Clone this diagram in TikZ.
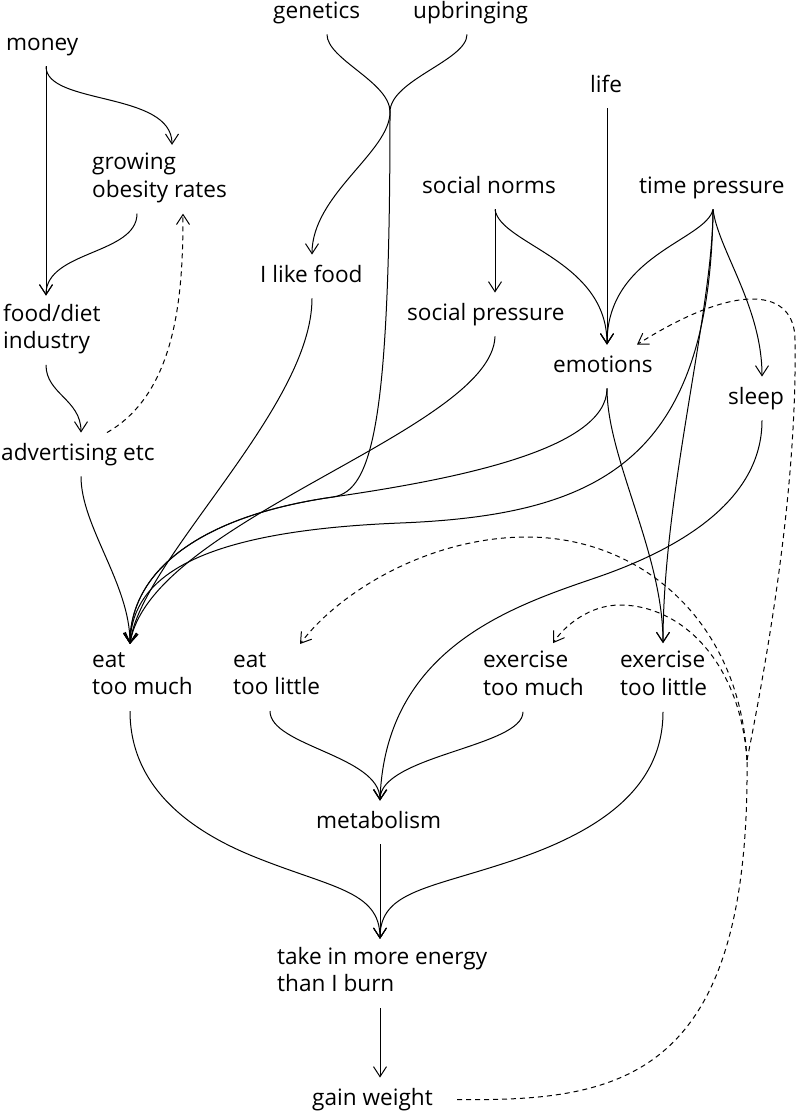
\documentclass[tikz,border=0pt]{standalone}
\usepackage{fontspec}
\setmainfont{Open Sans}
\usetikzlibrary{arrows.meta}

\begin{document}
\begin{tikzpicture}[x=1pt,y=-1pt,
    lbl/.style={anchor=west,align=left,inner xsep=0pt,inner ysep=8pt,
      font=\fontsize{22.6}{27.5}\selectfont,
      execute at begin node=\strut,execute at end node=\strut},
    >={Straight Barb[length=10pt,width=13pt]},
    ln/.style={line width=1pt},
    arr/.style={ln,->},
    fback/.style={ln,->,dash pattern=on 5pt off 4pt}]
  \useasboundingbox (0,0) rectangle (796,1111);

  % labels
  \node[lbl] (mo) at (6,44.5) {money};
  \node[lbl] (ge) at (273,12.5) {genetics};
  \node[lbl] (up) at (413,12.5) {upbringing};
  \node[lbl] (gr) at (92,179.25) {growing\\obesity rates};
  \node[lbl] (li) at (590,86.5) {life};
  \node[lbl] (sn) at (422,187.5) {social norms};
  \node[lbl] (tp) at (639,187.5) {time pressure};
  \node[lbl] (lf) at (260,276.5) {I like food};
  \node[lbl] (fd) at (3,330.25) {food/diet\\industry};
  \node[lbl] (sp) at (407,314.5) {social pressure};
  \node[lbl] (em) at (553,366.5) {emotions};
  \node[lbl] (sl) at (728,398.5) {sleep};
  \node[lbl] (ad) at (1,454.5) {advertising etc};
  \node[lbl] (etm) at (92,677.5) {eat\\too much};
  \node[lbl] (etl) at (233,677.5) {eat\\too little};
  \node[lbl] (exm) at (483,677.5) {exercise\\too much};
  \node[lbl] (exl) at (620,677.5) {exercise\\too little};
  \node[lbl] (me) at (316,822.5) {metabolism};
  \node[lbl] (ti) at (277,973.5) {take in more energy\\than I burn};
  \node[lbl] (gw) at (312,1099.5) {gain weight};

  \coordinate (gu) at (390,112);
  \coordinate (j) at (333,497);
  \coordinate (fb) at (747,760);

  % money side
  \draw[arr] ([xshift=40]mo.south west) -- ([xshift=43]fd.north west);
  \draw[arr] ([xshift=40]mo.south west) .. controls +(0,39) and +(0,-54) .. ([xshift=80]gr.north west);
  \draw[arr] ([xshift=45]gr.south west) .. controls +(0,41) and +(0,-45) .. ([xshift=43]fd.north west);
  \draw[arr] ([xshift=43]fd.south west) .. controls +(0,29) and +(0,-33) .. ([xshift=80]ad.north west);
  \draw[fback] ([xshift=106]ad.north west) .. controls +(70,-40) and +(0,80) .. ([xshift=91]gr.south west);
  \draw[arr] ([xshift=80]ad.south west) .. controls +(0,50) and +(0,-60) .. ([xshift=38]etm.north west);

  % genetics and upbringing
  \draw[ln] ([xshift=54]ge.south west) .. controls +(0,25) and +(0,-30) .. (gu);
  \draw[ln] ([xshift=54]up.south west) .. controls +(0,26) and +(0,-32) .. (gu);
  \draw[arr] (gu) .. controls +(0,40) and +(0,-60) .. ([xshift=52]lf.north west);
  \draw[arr] (gu) .. controls +(0,308) and +(40,-6) .. (j) .. controls +(-133,19) and +(0,-73) .. ([xshift=38]etm.north west);
  \draw[arr] ([xshift=52]lf.south west) .. controls +(0,110) and +(10,-83) .. ([xshift=38]etm.north west);

  % social norms, life, time pressure
  \draw[arr] ([xshift=73]sn.south west) -- ([xshift=88]sp.north west);
  \draw[arr] ([xshift=73]sn.south west) .. controls +(5,35) and +(0,-85) .. ([xshift=54]em.north west);
  \draw[arr] ([xshift=17]li.south west) -- ([xshift=54]em.north west);
  \draw[arr] ([xshift=74]tp.south west) .. controls +(-7,31) and +(0,-90) .. ([xshift=54]em.north west);
  \draw[arr] ([xshift=74]tp.south west) .. controls +(5,40) and +(0,-70) .. ([xshift=34]sl.north west);
  \draw[arr] ([xshift=74]tp.south west) .. controls +(-3,251) and +(200,-8) .. (400,523) .. controls +(-200,8) and +(2,-68) .. ([xshift=38]etm.north west);
  \draw[arr] ([xshift=74]tp.south west) .. controls +(0,100) and +(0,-150) .. ([xshift=43]exl.north west);

  % social pressure, emotions, sleep
  \draw[arr] ([xshift=88]sp.south west) .. controls +(-3,94) and +(20,-123) .. ([xshift=38]etm.north west);
  \draw[arr] ([xshift=54]em.south west) .. controls +(0,62) and +(117,-17) .. (j) .. controls +(-133,19) and +(0,-73) .. ([xshift=38]etm.north west);
  \draw[arr] ([xshift=54]em.south west) .. controls +(0,70) and +(0,-90) .. ([xshift=43]exl.north west);
  \draw[arr] ([xshift=34]sl.south west) .. controls +(0,80) and +(85,-29) .. (595,578) .. controls +(-85,29) and +(5,-151) .. ([xshift=64]me.north west);

  % metabolism and energy
  \draw[arr] ([xshift=37]etl.south west) .. controls +(0,35) and +(0,-45) .. ([xshift=64]me.north west);
  \draw[arr] ([xshift=40]exm.south west) .. controls +(0,35) and +(0,-45) .. ([xshift=64]me.north west);
  \draw[arr] ([xshift=38]etm.south west) .. controls +(0,76) and +(-60,-25) .. (250,855) .. controls +(80,33) and +(0,-49) .. ([xshift=103]ti.north west);
  \draw[arr] ([xshift=64]me.south west) -- ([xshift=103]ti.north west);
  \draw[arr] ([xshift=43]exl.south west) .. controls +(0,76) and +(80,-28) .. (520,858) .. controls +(-90,31) and +(0,-49) .. ([xshift=103]ti.north west);
  \draw[arr] ([xshift=103]ti.south west) -- ([xshift=68]gw.north west);

  % feedback from gain weight
  \draw[ln,dash pattern=on 5pt off 4pt] ([xshift=145]gw.west) .. controls +(163,2) and +(3,320) .. (fb);
  \draw[fback] (fb) .. controls +(28,-140) and +(2,130) .. (795,340) .. controls +(0,-50) and +(103,-65) .. ([xshift=84]em.north west);
  \draw[fback] (fb) .. controls +(-7,-140) and +(113,0) .. (527,537) .. controls +(-97,0) and +(40,-53) .. ([xshift=67]etl.north west);
  \draw[fback] (fb) .. controls +(-7,-100) and +(60,0) .. (620,605) .. controls +(-30,0) and +(12,-18) .. ([xshift=70]exm.north west);
\end{tikzpicture}
\end{document}
